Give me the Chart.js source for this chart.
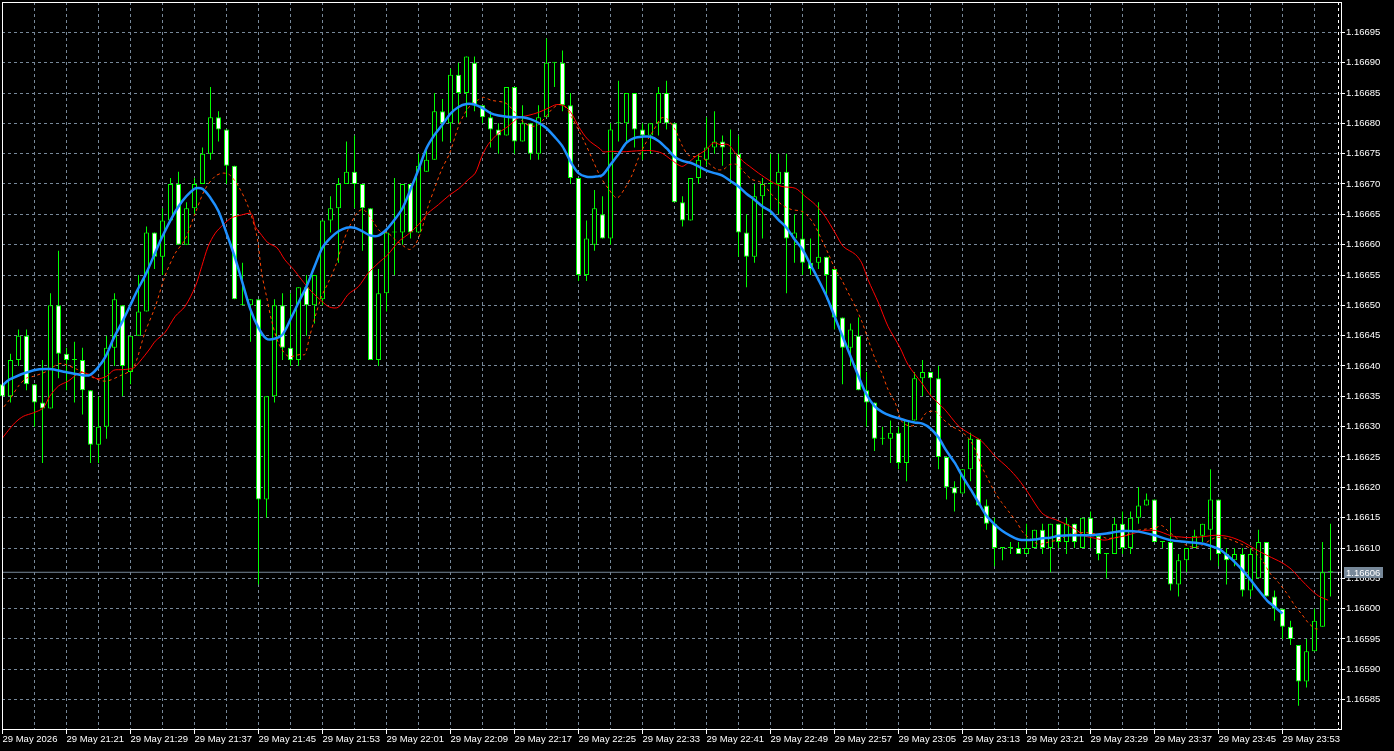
<!DOCTYPE html>
<html>
<head>
<meta charset="utf-8">
<script src="https://cdn.jsdelivr.net/npm/chart.js@4.4.1/dist/chart.umd.min.js"></script>
<style>
  html, body { margin: 0; padding: 0; background: #000; overflow: hidden; }
  canvas { display: block; }
</style>
</head>
<body>
<canvas id="chart" width="1394" height="751"></canvas>
<script>
// one-minute EURUSD candles, 29 May 21:13 .. 23:59
const opens = [
  1.16637,1.16635,1.16641,1.16645,1.16637,1.16634,1.16633,1.16650,1.16642,1.16641,
  1.16641,1.16636,1.16627,1.16630,1.16643,1.16650,1.16639,1.16645,1.16649,1.16662,
  1.16658,1.16664,1.16670,1.16660,1.16666,1.16670,1.16675,1.16681,1.16679,1.16673,
  1.16650,1.16650,1.16651,1.16618,1.16635,1.16650,1.16643,1.16641,1.16653,1.16650,
  1.16651,1.16664,1.16666,1.16670,1.16672,1.16670,1.16666,1.16641,1.16652,1.16662,
  1.16662,1.16670,1.16662,1.16672,1.16674,1.16682,1.16680,1.16688,1.16685,1.16690,
  1.16683,1.16681,1.16679,1.16678,1.16686,1.16677,1.16680,1.16675,1.16681,1.16690,
  1.16690,1.16683,1.16671,1.16655,1.16660,1.16665,1.16661,1.16680,1.16680,1.16685,
  1.16679,1.16678,1.16680,1.16685,1.16680,1.16667,1.16664,1.16671,1.16674,1.16676,
  1.16677,1.16675,1.16675,1.16662,1.16658,1.16668,1.16670,1.16670,1.16672,1.16661,
  1.16661,1.16657,1.16657,1.16658,1.16656,1.16648,1.16643,1.16645,1.16636,1.16634,
  1.16628,1.16628,1.16629,1.16624,1.16631,1.16638,1.16639,1.16638,1.16625,1.16620,
  1.16619,1.16623,1.16628,1.16617,1.16614,1.16610,1.16610,1.16610,1.16609,1.16610,
  1.16613,1.16610,1.16614,1.16611,1.16614,1.16610,1.16615,1.16612,1.16609,1.16609,
  1.16614,1.16610,1.16615,1.16617,1.16618,1.16611,1.16611,1.16604,1.16608,1.16610,
  1.16612,1.16613,1.16618,1.16609,1.16608,1.16609,1.16603,1.16605,1.16611,1.16602,
  1.16600,1.16597,1.16594,1.16588,1.16593,1.16597,1.16606
];
const highs = [
  1.16639,1.16642,1.16646,1.16646,1.16637,1.16641,1.16652,1.16659,1.16643,1.16644,
  1.16643,1.16636,1.16635,1.16645,1.16652,1.16650,1.16645,1.16655,1.16663,1.16662,
  1.16666,1.16671,1.16672,1.16667,1.16671,1.16676,1.16686,1.16682,1.16679,1.16673,
  1.16657,1.16651,1.16651,1.16635,1.16651,1.16652,1.16652,1.16653,1.16655,1.16655,
  1.16664,1.16668,1.16671,1.16677,1.16678,1.16670,1.16666,1.16656,1.16662,1.16671,
  1.16670,1.16670,1.16675,1.16676,1.16685,1.16684,1.16689,1.16690,1.16691,1.16691,
  1.16683,1.16682,1.16680,1.16686,1.16686,1.16683,1.16680,1.16683,1.16694,1.16690,
  1.16692,1.16685,1.16671,1.16664,1.16669,1.16668,1.16680,1.16687,1.16685,1.16685,
  1.16680,1.16680,1.16686,1.16687,1.16680,1.16668,1.16671,1.16675,1.16681,1.16682,
  1.16678,1.16679,1.16678,1.16665,1.16670,1.16671,1.16675,1.16675,1.16675,1.16665,
  1.16669,1.16661,1.16667,1.16658,1.16656,1.16648,1.16647,1.16648,1.16639,1.16634,
  1.16630,1.16631,1.16630,1.16631,1.16639,1.16641,1.16639,1.16640,1.16625,1.16621,
  1.16623,1.16629,1.16628,1.16618,1.16615,1.16610,1.16611,1.16611,1.16614,1.16613,
  1.16614,1.16614,1.16614,1.16615,1.16614,1.16615,1.16616,1.16612,1.16609,1.16615,
  1.16616,1.16616,1.16620,1.16619,1.16618,1.16611,1.16615,1.16609,1.16610,1.16613,
  1.16614,1.16623,1.16618,1.16610,1.16610,1.16610,1.16610,1.16613,1.16611,1.16603,
  1.16600,1.16598,1.16594,1.16595,1.16600,1.16611,1.16614
];
const lows = [
  1.16634,1.16634,1.16640,1.16636,1.16630,1.16624,1.16633,1.16638,1.16636,1.16634,
  1.16632,1.16624,1.16624,1.16628,1.16640,1.16635,1.16637,1.16645,1.16649,1.16656,
  1.16655,1.16664,1.16660,1.16660,1.16665,1.16670,1.16674,1.16677,1.16670,1.16651,
  1.16650,1.16644,1.16604,1.16615,1.16634,1.16641,1.16640,1.16640,1.16645,1.16647,
  1.16650,1.16662,1.16657,1.16670,1.16666,1.16659,1.16641,1.16640,1.16649,1.16655,
  1.16660,1.16661,1.16662,1.16672,1.16674,1.16677,1.16677,1.16680,1.16681,1.16682,
  1.16680,1.16676,1.16675,1.16678,1.16675,1.16677,1.16674,1.16674,1.16681,1.16686,
  1.16682,1.16670,1.16654,1.16654,1.16659,1.16661,1.16660,1.16677,1.16677,1.16676,
  1.16674,1.16675,1.16678,1.16679,1.16667,1.16663,1.16664,1.16670,1.16673,1.16675,
  1.16673,1.16670,1.16658,1.16653,1.16657,1.16661,1.16665,1.16665,1.16652,1.16657,
  1.16655,1.16655,1.16656,1.16651,1.16646,1.16637,1.16640,1.16636,1.16630,1.16626,
  1.16627,1.16624,1.16623,1.16621,1.16631,1.16635,1.16635,1.16623,1.16618,1.16616,
  1.16619,1.16621,1.16617,1.16613,1.16607,1.16608,1.16609,1.16609,1.16609,1.16610,
  1.16609,1.16606,1.16610,1.16609,1.16610,1.16610,1.16610,1.16608,1.16605,1.16609,
  1.16609,1.16609,1.16614,1.16617,1.16611,1.16610,1.16603,1.16602,1.16606,1.16610,
  1.16611,1.16608,1.16607,1.16604,1.16607,1.16602,1.16602,1.16605,1.16602,1.16598,
  1.16595,1.16594,1.16584,1.16587,1.16593,1.16597,1.16602
];
const closes = [
  1.16635,1.16641,1.16645,1.16637,1.16634,1.16633,1.16650,1.16642,1.16641,1.16641,
  1.16636,1.16627,1.16630,1.16643,1.16651,1.16640,1.16645,1.16649,1.16662,1.16658,
  1.16664,1.16670,1.16660,1.16666,1.16670,1.16675,1.16681,1.16679,1.16673,1.16651,
  1.16650,1.16651,1.16618,1.16635,1.16650,1.16643,1.16641,1.16653,1.16650,1.16655,
  1.16664,1.16666,1.16670,1.16672,1.16670,1.16666,1.16641,1.16652,1.16662,1.16662,
  1.16670,1.16662,1.16673,1.16674,1.16682,1.16680,1.16688,1.16685,1.16691,1.16683,
  1.16681,1.16679,1.16678,1.16686,1.16677,1.16680,1.16675,1.16681,1.16690,1.16690,
  1.16683,1.16671,1.16655,1.16661,1.16666,1.16661,1.16679,1.16680,1.16685,1.16679,
  1.16678,1.16680,1.16685,1.16680,1.16667,1.16664,1.16671,1.16674,1.16676,1.16677,
  1.16676,1.16675,1.16662,1.16658,1.16668,1.16670,1.16670,1.16672,1.16661,1.16662,
  1.16657,1.16656,1.16658,1.16655,1.16648,1.16643,1.16646,1.16636,1.16634,1.16628,
  1.16628,1.16629,1.16624,1.16631,1.16638,1.16639,1.16638,1.16625,1.16620,1.16619,
  1.16623,1.16628,1.16617,1.16614,1.16610,1.16610,1.16610,1.16609,1.16610,1.16613,
  1.16610,1.16614,1.16611,1.16614,1.16611,1.16615,1.16612,1.16609,1.16609,1.16614,
  1.16610,1.16615,1.16617,1.16618,1.16611,1.16611,1.16604,1.16608,1.16610,1.16612,
  1.16614,1.16618,1.16609,1.16608,1.16609,1.16603,1.16609,1.16611,1.16602,1.16600,
  1.16597,1.16595,1.16588,1.16593,1.16598,1.16606,1.16606
];

// moving averages, read at bar positions
const fastX = [-0.1,0.9,3.9,5.9,7.9,9.9,10.9,11.9,12.9,13.9,14.9,15.9,16.9,17.9,20,22,24,25,26,27,28,29,30,31,32,33,34,35,36,37.2,
  38,39,40,41,42,43,44,45,46,47,48,49,50,51,52,53,54,55,56,57,58,59,60,61,62,63,64,65,66,67,68,69,70,71,72,73,74,75,76,77,78,79,80,
  81,82,83,84,85,86,87,88,89,90,91,92,93,94,95,96,97,98,99,100,101,102,103,104,105,106,107,108,109,110,111,112,113,114,115,116,117,
  118,119,120,121,122,123,124,125,126,127,128,129,130,131,132,134,136,138,140,142,144,146,148,150.1,151.1,152.1,153.1,154.1,155.1,
  156.1,157.1,158.1,159.1,160];
const fastY = [1.166367,1.166378,1.166393,1.166395,1.166390,1.166385,1.166385,1.166397,1.166416,1.166446,1.166471,1.166498,1.166526,
  1.166551,1.166614,1.166663,1.166692,1.166692,1.166677,1.166655,1.166619,1.166581,1.166537,1.166493,1.166463,1.166445,1.166445,
  1.166452,1.166477,1.166510,1.166531,1.166564,1.166595,1.166611,1.166622,1.166628,1.166628,1.166622,1.166615,1.166615,1.166625,
  1.166641,1.166660,1.166691,1.166724,1.166759,1.166781,1.166798,1.166816,1.166827,1.166832,1.166831,1.166825,1.166817,1.166813,
  1.166811,1.166810,1.166810,1.166807,1.166801,1.166792,1.166778,1.166762,1.166737,1.166718,1.166712,1.166712,1.166715,1.166732,
  1.166749,1.166768,1.166776,1.166778,1.166778,1.166771,1.166759,1.166745,1.166738,1.166735,1.166729,1.166722,1.166718,1.166714,
  1.166705,1.166696,1.166684,1.166674,1.166663,1.166655,1.166641,1.166628,1.166609,1.166592,1.166567,1.166542,1.166515,1.166482,
  1.166449,1.166416,1.166383,1.166353,1.166334,1.166324,1.166318,1.166314,1.166310,1.166307,1.166305,1.166297,1.166282,1.166260,
  1.166241,1.166218,1.166197,1.166175,1.166153,1.166139,1.166128,1.166120,1.166114,1.166113,1.166114,1.166116,1.166117,1.166120,
  1.166121,1.166121,1.166124,1.166128,1.166127,1.166121,1.166113,1.166110,1.166107,1.166103,1.166098,1.166088,1.166076,1.166062,
  1.166046,1.166029,1.166013,1.166002,1.165992];

const midX = [-0.3,0.9,2.0,3.0,3.9,5.5,7.2,9.4,11.3,12.9,14.7,16.3,17.8,19.1,20.3,21.6,22.8,24.1,25.3,26.6,27.6,28.4,29.5,30.7,31.8,
  32.4,33.0,33.6,34.5,35.7,37.2,37.8,38.4,39.1,39.9,40.7,41.6,42.4,43.2,44.3,45.1,46.2,47.2,48.2,49.1,49.9,50.9,51.6,52.4,53.2,54.1,
  54.9,55.9,57.0,57.8,58.6,59.5,60.1,61.1,62.8,63.6,64.5,65.3,66.2,67.0,67.8,68.6,69.5,70.3,71.1,72.0,72.8,73.6,74.7,75.7,76.8,77.8,
  78.7,79.5,80.3,81.4,82.4,83.2,84.1,84.9,85.7,86.6,87.4,88.2,89.3,90.1,90.9,91.8,92.6,93.6,94.9,96.2,97.4,98.6,99.9,100.7,101.6,
  102.4,103.2,104.1,104.9,105.7,106.6,107.4,108.2,109.1,109.9,110.7,111.6,112.4,113.4,114.5,115.5,116.6,117.6,118.6,119.7,120.7,
  121.6,122.4,123.2,124.1,124.9,125.9,126.8,127.6,128.6,129.5,130.3,131.1,132.2,133.2,134.5,135.7,137.0,138.0,139.1,140.3,141.6,
  142.8,144.1,144.9,145.7,147.0,148.2,149.5,151.6,153.2,154.9,156.1,157.4,158.4,159.5,160.5,161.6,162.4,163.2,164.1,164.7];
const midY = [1.166325,1.166345,1.166367,1.166380,1.166383,1.166391,1.166404,1.166394,1.166381,1.166375,1.166384,1.166396,1.166455,
  1.166498,1.166548,1.166586,1.166608,1.166652,1.166691,1.166713,1.166718,1.166715,1.166696,1.166663,1.166614,1.166553,1.166515,
  1.166477,1.166438,1.166416,1.166419,1.166419,1.166449,1.166482,1.166515,1.166537,1.166564,1.166597,1.166625,1.166652,1.166658,
  1.166641,1.166622,1.166619,1.166608,1.166600,1.166592,1.166600,1.166625,1.166663,1.166696,1.166724,1.166751,1.166795,1.166817,
  1.166831,1.166839,1.166843,1.166838,1.166834,1.166825,1.166811,1.166800,1.166795,1.166798,1.166809,1.166822,1.166831,1.166828,
  1.166811,1.166789,1.166768,1.166745,1.166713,1.166693,1.166677,1.166693,1.166715,1.166743,1.166765,1.166789,1.166809,1.166806,
  1.166789,1.166765,1.166748,1.166745,1.166745,1.166735,1.166724,1.166724,1.166732,1.166732,1.166721,1.166708,1.166702,1.166682,
  1.166666,1.166658,1.166655,1.166647,1.166630,1.166608,1.166586,1.166559,1.166542,1.166521,1.166498,1.166474,1.166444,1.166411,
  1.166389,1.166361,1.166339,1.166309,1.166301,1.166306,1.166323,1.166325,1.166312,1.166301,1.166293,1.166282,1.166262,1.166235,
  1.166213,1.166191,1.166175,1.166158,1.166142,1.166125,1.166114,1.166106,1.166108,1.166111,1.166114,1.166122,1.166125,1.166125,
  1.166122,1.166116,1.166117,1.166120,1.166128,1.166131,1.166133,1.166137,1.166128,1.166114,1.166103,1.166102,1.166117,1.166115,
  1.166106,1.166098,1.166081,1.166059,1.166043,1.166026,1.166004,1.165991,1.165977,1.165967,1.165967];

const slowX = [-0.3,0.5,1.6,2.6,3.9,5.1,5.9,7.0,8.2,9.7,10.9,11.8,13.0,13.9,15.1,16.4,17.2,18.4,19.1,20.3,21.6,22.8,24.1,24.9,25.7,
  26.6,27.6,28.6,29.9,31.1,31.6,32.2,33.2,34.3,35.3,36.4,37.4,38.6,39.9,40.9,42.0,43.2,44.5,45.7,47.0,48.2,49.5,50.7,52.0,53.2,54.5,
  55.9,57.0,58.2,59.1,59.9,60.7,62.0,63.2,64.5,65.7,67.0,68.2,69.3,70.3,71.1,72.0,73.2,74.7,75.1,76.1,77.4,78.6,79.9,81.1,82.4,83.6,
  84.9,85.7,86.6,87.8,88.9,89.7,90.7,91.6,92.6,93.4,94.5,96.1,97.4,99.1,100.3,101.6,102.8,104.1,105.1,106.6,107.4,108.2,109.5,110.7,
  112.2,113.2,114.9,116.1,117.8,119.5,120.7,122.4,124.1,125.7,127.0,128.2,129.9,130.9,131.6,132.8,134.1,135.3,136.6,137.8,139.1,
  140.3,141.6,142.8,144.1,145.1,146.1,147.4,148.6,150.3,151.6,153.2,154.9,156.6,158.2,159.9,161.1,162.3,163.5,164.5,165.7];
const slowY = [1.166276,1.166290,1.166307,1.166317,1.166323,1.166331,1.166350,1.166367,1.166375,1.166389,1.166386,1.166379,1.166383,
  1.166393,1.166394,1.166397,1.166408,1.166428,1.166441,1.166455,1.166482,1.166498,1.166531,1.166564,1.166597,1.166619,1.166633,
  1.166644,1.166649,1.166651,1.166630,1.166619,1.166603,1.166595,1.166575,1.166559,1.166542,1.166523,1.166507,1.166497,1.166497,
  1.166518,1.166531,1.166553,1.166570,1.166584,1.166605,1.166617,1.166633,1.166652,1.166666,1.166682,1.166692,1.166707,1.166718,
  1.166745,1.166765,1.166784,1.166795,1.166809,1.166813,1.166818,1.166825,1.166831,1.166828,1.166817,1.166795,1.166773,1.166758,
  1.166753,1.166754,1.166753,1.166754,1.166755,1.166755,1.166751,1.166740,1.166729,1.166735,1.166745,1.166755,1.166768,1.166765,
  1.166765,1.166751,1.166737,1.166729,1.166718,1.166704,1.166696,1.166693,1.166680,1.166666,1.166647,1.166619,1.166597,1.166584,
  1.166570,1.166542,1.166504,1.166465,1.166430,1.166402,1.166372,1.166350,1.166328,1.166301,1.166290,1.166276,1.166251,1.166232,
  1.166213,1.166191,1.166158,1.166150,1.166147,1.166140,1.166131,1.166120,1.166116,1.166113,1.166117,1.166120,1.166125,1.166129,
  1.166129,1.166125,1.166120,1.166118,1.166117,1.166119,1.166121,1.166119,1.166111,1.166098,1.166087,1.166076,1.166065,1.166048,
  1.166032,1.166021,1.166014];

const timeLabels = ['29 May 2026','29 May 21:21','29 May 21:29','29 May 21:37','29 May 21:45','29 May 21:53','29 May 22:01',
  '29 May 22:09','29 May 22:17','29 May 22:25','29 May 22:33','29 May 22:41','29 May 22:49','29 May 22:57','29 May 23:05',
  '29 May 23:13','29 May 23:21','29 May 23:29','29 May 23:37','29 May 23:45','29 May 23:53'];
const priceTicks = [1.16585,1.16590,1.16595,1.16600,1.16605,1.16610,1.16615,1.16620,1.16625,1.16630,1.16635,1.16640,
  1.16645,1.16650,1.16655,1.16660,1.16665,1.16670,1.16675,1.16680,1.16685,1.16690,1.16695];

const FONT = { family: "'Liberation Sans', Arial, sans-serif", size: 9.5 };
const lastPrice = closes[closes.length - 1];
const nBars = closes.length;

const wicks = lows.map((l, i) => ({ x: i, y: [l, highs[i]] }));
const bodies = opens.map((o, i) => ({ x: i, y: [o, closes[i]] }));
const bodyFill = opens.map((o, i) => closes[i] < o ? '#ffffff' : '#000000');
const toXY = (xs, ys) => xs.map((x, i) => ({ x: x, y: ys[i] }));

const bgPlugin = {
  id: 'bg',
  beforeDraw(c) {
    const ctx = c.ctx;
    ctx.save();
    ctx.fillStyle = '#000';
    ctx.fillRect(0, 0, c.width, c.height);
    ctx.restore();
  }
};

const framePlugin = {
  id: 'frame',
  afterDraw(c) {
    const { ctx, chartArea: a, scales } = c;
    ctx.save();
    ctx.strokeStyle = '#ffffff';
    ctx.lineWidth = 1;
    // chart shift marker
    const sx = Math.floor(scales.x.getPixelForValue(nBars)) + 0.5;
    ctx.setLineDash([3, 3]);
    ctx.beginPath();
    ctx.moveTo(sx, a.top);
    ctx.lineTo(sx, a.bottom);
    ctx.stroke();
    ctx.setLineDash([]);
    ctx.strokeRect(a.left + 0.5, a.top + 0.5, a.right - a.left, a.bottom - a.top - 1);
    // bid label
    const py = Math.round(scales.y.getPixelForValue(lastPrice));
    ctx.fillStyle = '#778899';
    ctx.fillRect(a.right + 3, py - 5, 39, 11);
    ctx.fillStyle = '#ffffff';
    ctx.font = FONT.size + 'px ' + FONT.family;
    ctx.textBaseline = 'middle';
    ctx.fillText(lastPrice.toFixed(5), a.right + 5, py + 1);
    ctx.restore();
  }
};

const chart = new Chart(document.getElementById('chart').getContext('2d'), {
  data: {
    datasets: [
      {
        type: 'line', label: 'fast', data: toXY(fastX, fastY),
        borderColor: '#1e90ff', borderWidth: 2.5, pointRadius: 0, tension: 0.3, order: 0
      },
      {
        type: 'line', label: 'mid', data: toXY(midX, midY),
        borderColor: '#ff4500', borderWidth: 1, borderDash: [3, 3], pointRadius: 0, tension: 0.3, order: 1
      },
      {
        type: 'line', label: 'slow', data: toXY(slowX, slowY),
        borderColor: '#ff0000', borderWidth: 1, pointRadius: 0, tension: 0.3, order: 2
      },
      {
        type: 'bar', label: 'bodies', data: bodies,
        backgroundColor: bodyFill, borderColor: '#00ff00', borderWidth: 1, borderSkipped: false,
        barThickness: 5, minBarLength: 1, grouped: false, inflateAmount: 0, clip: false, order: 3
      },
      {
        type: 'bar', label: 'wicks', data: wicks,
        backgroundColor: '#00ff00', borderWidth: 0, barThickness: 1,
        grouped: false, inflateAmount: 0, clip: false, order: 4
      },
      {
        type: 'line', label: 'bid', data: [{ x: -1, y: lastPrice }, { x: nBars + 2, y: lastPrice }],
        borderColor: '#778899', borderWidth: 1, pointRadius: 0, order: 5
      }
    ]
  },
  options: {
    responsive: false,
    animation: false,
    devicePixelRatio: 1,
    layout: { padding: { left: 2, top: 2, right: 0, bottom: 0 } },
    plugins: { legend: { display: false }, tooltip: { enabled: false } },
    scales: {
      x: {
        type: 'linear',
        position: 'bottom',
        offset: false,
        min: -0.0625,
        max: 167.3125,
        afterBuildTicks: s => {
          const t = [];
          for (let v = 0; v <= 164; v += 4) t.push({ value: v });
          s.ticks = t;
        },
        afterFit: s => { s.height = 21; s.paddingLeft = 0; s.paddingRight = 0; },
        ticks: {
          autoSkip: false, maxRotation: 0, minRotation: 0, align: 'start', padding: 0,
          color: '#ffffff', font: FONT,
          callback: v => (v % 8 === 0 ? timeLabels[v / 8] : '')
        },
        grid: {
          offset: false, color: '#778899', lineWidth: 1, tickLength: 4,
          tickColor: ctx => (ctx.tick && ctx.tick.value % 8 === 0 ? '#ffffff' : 'rgba(0,0,0,0)')
        },
        border: { display: false, dash: [3, 3] }
      },
      y: {
        type: 'linear',
        position: 'right',
        min: 1.16580,
        max: 1.16700,
        afterBuildTicks: s => { s.ticks = priceTicks.map(v => ({ value: v })); },
        afterFit: s => { s.width = 53; s.paddingTop = 0; s.paddingBottom = 0; },
        ticks: {
          padding: 1, color: '#ffffff', font: FONT,
          callback: v => v.toFixed(5)
        },
        grid: { color: '#778899', lineWidth: 1, tickLength: 4, tickColor: '#ffffff' },
        border: { display: false, dash: [3, 3] }
      }
    }
  },
  plugins: [bgPlugin, framePlugin]
});
</script>
</body>
</html>
